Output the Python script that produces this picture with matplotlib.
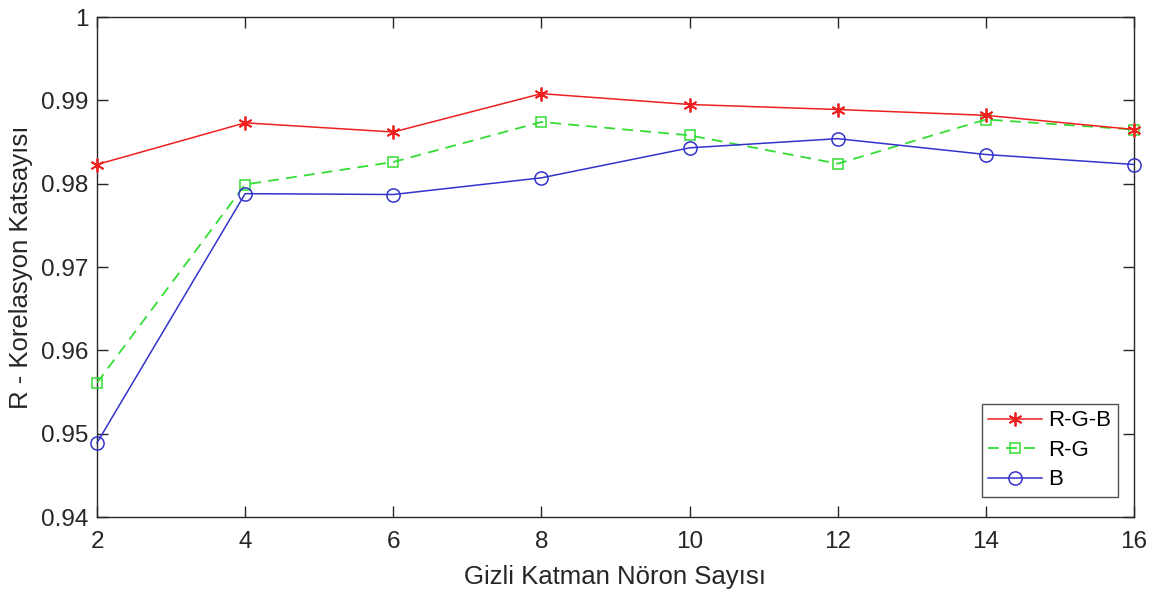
import matplotlib
matplotlib.use("Agg")
import matplotlib.pyplot as plt

neurons = [2, 4, 6, 8, 10, 12, 14, 16]
r_rgb = [0.9823, 0.9873, 0.9862, 0.9908, 0.9895, 0.9889, 0.9882, 0.9865]
r_rg = [0.9561, 0.9799, 0.9826, 0.9874, 0.9858, 0.9824, 0.9877, 0.9865]
r_b = [0.9489, 0.9788, 0.9787, 0.9807, 0.9843, 0.9854, 0.9835, 0.9823]
yticks = [0.94, 0.95, 0.96, 0.97, 0.98, 0.99, 1]
ytick_labels = ["0.94", "0.95", "0.96", "0.97", "0.98", "0.99", "1"]
xticks = [2, 4, 6, 8, 10, 12, 14, 16]

plt.rcParams['font.family'] = ['Liberation Sans', 'DejaVu Sans']

fig = plt.figure(figsize=(11.58, 5.97), dpi=100)
ax = fig.add_axes([97/1158, 80/597, 1037/1158, 500/597])

ax.plot(neurons, r_rgb, color='#ee2020', marker=(6, 2, 0), markersize=10,
        markeredgewidth=1.3, lw=1.1, label='R-G-B', clip_on=False, zorder=4)
ax.plot(neurons, r_rg, color='#33dd33', marker='s', markersize=7.5, lw=1.3,
        markeredgewidth=1.1, linestyle=(0, (6, 4)), markerfacecolor='none',
        label='R-G', clip_on=False, zorder=3)
ax.plot(neurons, r_b, color='#3333cc', marker='o', markersize=9.5, lw=1.1,
        markeredgewidth=1.1, markerfacecolor='none', label='B', clip_on=False, zorder=3)

ax.set_xlim(2, 16)
ax.set_ylim(0.94, 1.0)
ax.set_xticks(xticks)
ax.set_yticks(yticks)
ax.set_yticklabels(ytick_labels)
axcol = '#262626'
ax.tick_params(direction='in', length=8, width=1, colors=axcol, labelsize=17.5,
               top=True, right=True, labelcolor='#262626')
ax.tick_params(axis='x', pad=10)
ax.tick_params(axis='y', pad=6)
for s in ax.spines.values():
    s.set_color(axcol)
    s.set_linewidth(1)

ax.set_xlabel('Gizli Katman Nöron Sayısı', fontsize=18.5, color='#262626', labelpad=9)
ax.set_ylabel('R - Korelasyon Katsayısı', fontsize=18.5, color='#262626', labelpad=6)

leg = ax.legend(loc='lower right', fontsize=16, frameon=True, fancybox=False,
                edgecolor='#262626', handlelength=2.4, borderpad=0.3,
                labelspacing=0.38, handletextpad=0.3, borderaxespad=0,
                bbox_to_anchor=(1 - 16/1037, 20/500))
leg.get_frame().set_linewidth(1)

fig.savefig('out.png', dpi=100)
